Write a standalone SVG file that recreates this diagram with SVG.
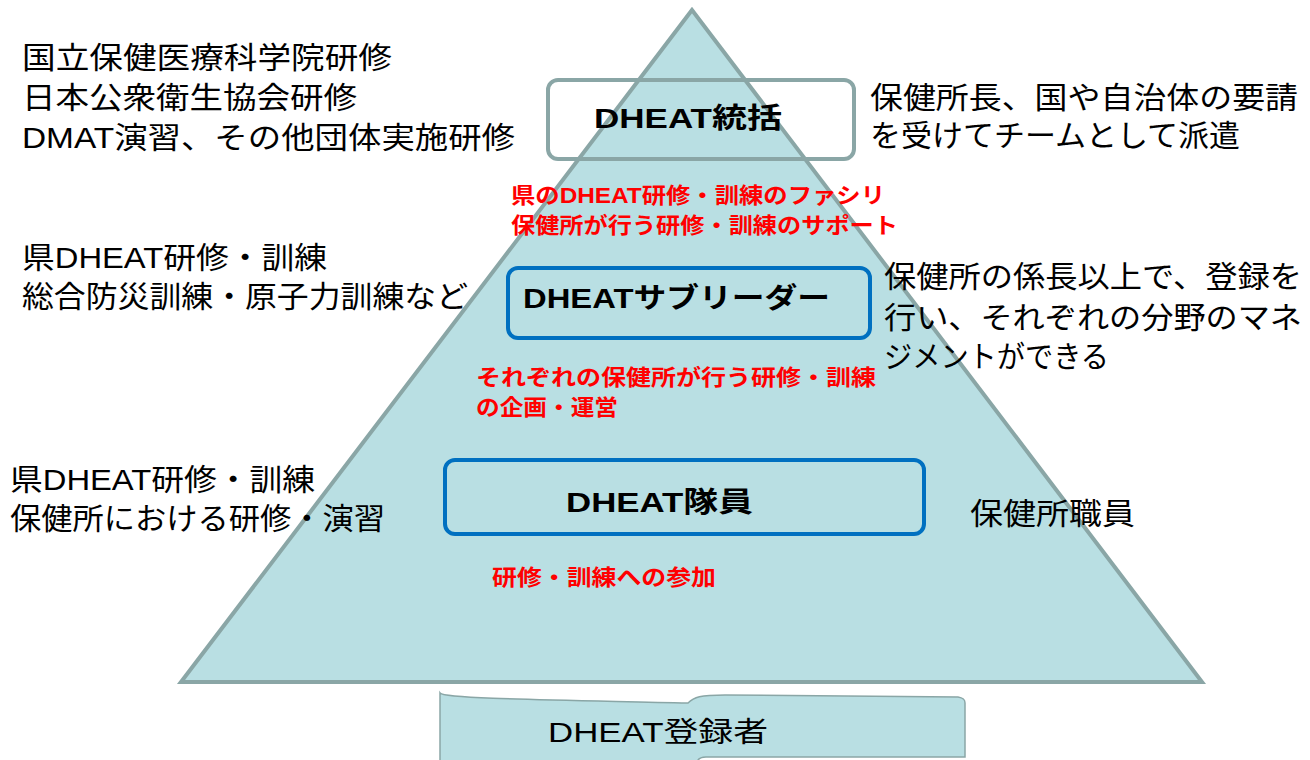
<svg xmlns="http://www.w3.org/2000/svg" width="1310" height="760" viewBox="0 0 1310 760">
<style>
text{font-family:"Liberation Sans","Noto Sans CJK JP",sans-serif;fill:#000}
.big{font-size:30px}
.lbl{font-size:28px;font-weight:bold}
.red{font-size:22px;font-weight:bold;fill:#ff0000}
.tri{fill:#b9dfe3;stroke:#8aa6a6;stroke-width:4;stroke-linejoin:miter}
.gbox{fill:none;stroke:#8aa6a6;stroke-width:4}
.bbox{fill:none;stroke:#0070c0;stroke-width:4}
</style>
<rect width="1310" height="760" fill="#fff"/>
<g id="pyramid">
<polygon class="tri" points="692,10 181,682 1202,682"/>
</g>
<g id="registrants">
<path d="M440,693 C444,699 560,700 688,703 C694,697 700,695 725,695 L958,697 C964,698 965,700 965,703 L965,757 L706,757 C700,757 698,759 697,762 L440,762 Z" fill="#b9dfe3" stroke="#8aa6a6" stroke-width="1.5"/>
<text x="548" y="742" style="font-size:28px" textLength="220" lengthAdjust="spacingAndGlyphs">DHEAT登録者</text>
</g>
<g id="toukatsu">
<rect class="gbox" x="548" y="80" width="306" height="79" rx="10"/>
<text class="lbl" x="594" y="128" textLength="188" lengthAdjust="spacingAndGlyphs">DHEAT統括</text>
</g>
<g id="subleader">
<rect class="bbox" x="508" y="268" width="362" height="70" rx="10"/>
<text class="lbl" x="523" y="308" textLength="307" lengthAdjust="spacingAndGlyphs">DHEATサブリーダー</text>
</g>
<g id="taiin">
<rect class="bbox" x="445" y="460" width="479" height="74" rx="10"/>
<text class="lbl" x="566" y="512" textLength="187" lengthAdjust="spacingAndGlyphs">DHEAT隊員</text>
</g>
<g id="left-top">
<text class="big" x="22" y="68" textLength="370" lengthAdjust="spacingAndGlyphs">国立保健医療科学院研修</text>
<text class="big" x="22" y="108" textLength="335" lengthAdjust="spacingAndGlyphs">日本公衆衛生協会研修</text>
<text class="big" x="22" y="148" textLength="493" lengthAdjust="spacingAndGlyphs">DMAT演習、その他団体実施研修</text>
</g>
<g id="right-top">
<text class="big" x="870" y="108" textLength="428" lengthAdjust="spacingAndGlyphs">保健所長、国や自治体の要請</text>
<text class="big" x="870" y="146" textLength="370" lengthAdjust="spacingAndGlyphs">を受けてチームとして派遣</text>
</g>
<g id="left-mid">
<text class="big" x="22" y="268" textLength="305" lengthAdjust="spacingAndGlyphs">県DHEAT研修・訓練</text>
<text class="big" x="22" y="307" textLength="446" lengthAdjust="spacingAndGlyphs">総合防災訓練・原子力訓練など</text>
</g>
<g id="right-mid">
<text class="big" x="884" y="287" textLength="418" lengthAdjust="spacingAndGlyphs">保健所の係長以上で、登録を</text>
<text class="big" x="884" y="328" textLength="418" lengthAdjust="spacingAndGlyphs">行い、それぞれの分野のマネ</text>
<text class="big" x="884" y="367" textLength="225" lengthAdjust="spacingAndGlyphs">ジメントができる</text>
</g>
<g id="left-bottom">
<text class="big" x="10" y="490" textLength="305" lengthAdjust="spacingAndGlyphs">県DHEAT研修・訓練</text>
<text class="big" x="10" y="529" textLength="375" lengthAdjust="spacingAndGlyphs">保健所における研修・演習</text>
</g>
<g id="right-bottom">
<text class="big" x="970" y="524" textLength="165" lengthAdjust="spacingAndGlyphs">保健所職員</text>
</g>
<g id="red-labels">
<text class="red" x="511" y="203" textLength="374" lengthAdjust="spacingAndGlyphs">県のDHEAT研修・訓練のファシリ</text>
<text class="red" x="511" y="233" textLength="387" lengthAdjust="spacingAndGlyphs">保健所が行う研修・訓練のサポート</text>
<text class="red" x="476" y="385" textLength="400" lengthAdjust="spacingAndGlyphs">それぞれの保健所が行う研修・訓練</text>
<text class="red" x="476" y="415" textLength="142" lengthAdjust="spacingAndGlyphs">の企画・運営</text>
<text class="red" x="492" y="585" textLength="224" lengthAdjust="spacingAndGlyphs">研修・訓練への参加</text>
</g>
</svg>
